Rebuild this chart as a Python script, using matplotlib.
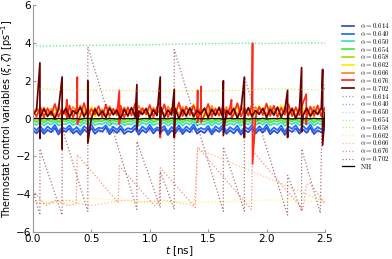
import numpy as np
import matplotlib
matplotlib.use("Agg")
from matplotlib import pyplot as plt
from matplotlib.font_manager import FontProperties

# parameter values and colours
alphas = ["0.614", "0.640", "0.650", "0.654", "0.658", "0.662", "0.666", "0.676", "0.702"]
colors = ["#2f4fd0", "#1f6cff", "#40dcc8", "#40ee40", "#a8de00", "#ffec00", "#ff8a22", "#ff2a1a", "#6a0000"]

# solid traces (xi), sampled evenly over 0..2.5 ns
xi_614 = [-0.62, -0.78, -0.55, -0.81, -0.60, -0.72, -0.49, -0.84, -0.58, -0.70, -0.52, -0.79, -0.63, -0.86, -0.57, -0.74,
          -0.50, -0.80, -0.61, -0.69, -0.47, -0.83, -0.59, -0.76, -0.53, -0.81, -0.66, -0.72, -0.51, -0.85, -0.60, -0.75,
          -0.48, -0.79, -0.56, -0.71, -0.54, -0.87, -0.62, -0.77, -0.50, -0.82, -0.58, -0.73, -0.46, -0.80, -0.64, -0.76,
          -0.52, -0.84, -0.57, -0.70, -0.49, -0.81, -0.61, -0.78, -0.55, -0.85, -0.60, -0.72, -0.50, -0.79, -0.56, -0.74,
          -0.48, -0.83, -0.63, -0.77, -0.53, -0.86, -0.59, -0.71, -0.51, -0.80, -0.57, -0.75, -0.47, -0.82, -0.62, -0.73, -0.55]
xi_640 = [-0.45, -0.62, -0.38, -0.66, -0.42, -0.58, -0.33, -0.69, -0.47, -0.55, -0.36, -0.64, -0.44, -0.71, -0.40, -0.57,
          -0.31, -0.63, -0.48, -0.52, -0.35, -0.68, -0.43, -0.60, -0.37, -0.65, -0.50, -0.56, -0.34, -0.70, -0.41, -0.59,
          -0.32, -0.62, -0.46, -0.54, -0.39, -0.72, -0.44, -0.61, -0.35, -0.66, -0.42, -0.57, -0.30, -0.64, -0.49, -0.58,
          -0.38, -0.69, -0.40, -0.55, -0.33, -0.67, -0.45, -0.60, -0.37, -0.71, -0.43, -0.56, -0.34, -0.63, -0.41, -0.59,
          -0.32, -0.68, -0.47, -0.61, -0.36, -0.70, -0.42, -0.54, -0.35, -0.65, -0.39, -0.58, -0.31, -0.66, -0.44, -0.57, -0.38]
xi_650 = [-0.25, -0.34, -0.19, -0.37, -0.22, -0.31, -0.17, -0.36, -0.27, -0.30, -0.18, -0.35, -0.24, -0.38, -0.20, -0.32,
          -0.16, -0.34, -0.26, -0.29, -0.19, -0.37, -0.23, -0.33, -0.18, -0.36, -0.28, -0.30, -0.17, -0.38, -0.21, -0.32,
          -0.16, -0.35, -0.25, -0.29, -0.20, -0.37, -0.23, -0.34, -0.18, -0.36, -0.22, -0.31, -0.15, -0.35, -0.27, -0.32,
          -0.19, -0.37, -0.21, -0.30, -0.17, -0.36, -0.24, -0.33, -0.19, -0.38, -0.22, -0.31, -0.17, -0.34, -0.21, -0.32,
          -0.16, -0.37, -0.25, -0.33, -0.18, -0.38, -0.22, -0.29, -0.18, -0.35, -0.20, -0.32, -0.16, -0.36, -0.23, -0.31, -0.19]
xi_654 = [-0.10, -0.19, -0.05, -0.21, -0.08, -0.16, -0.04, -0.20, -0.12, -0.15, -0.06, -0.19, -0.09, -0.22, -0.07, -0.17,
          -0.03, -0.18, -0.11, -0.14, -0.05, -0.21, -0.09, -0.17, -0.06, -0.20, -0.13, -0.15, -0.04, -0.22, -0.08, -0.16,
          -0.03, -0.19, -0.10, -0.14, -0.07, -0.21, -0.09, -0.18, -0.05, -0.20, -0.08, -0.16, -0.03, -0.19, -0.12, -0.17,
          -0.06, -0.21, -0.08, -0.15, -0.04, -0.20, -0.10, -0.17, -0.06, -0.22, -0.09, -0.16, -0.04, -0.18, -0.08, -0.17,
          -0.03, -0.21, -0.11, -0.17, -0.05, -0.22, -0.09, -0.14, -0.05, -0.19, -0.07, -0.16, -0.03, -0.20, -0.09, -0.15, -0.06]
xi_658 = [-0.02, -0.08, 0.02, -0.09, 0.00, -0.06, 0.03, -0.10, -0.03, -0.05, 0.01, -0.08, -0.01, -0.09, 0.02, -0.07,
          0.04, -0.08, -0.02, -0.04, 0.02, -0.09, 0.00, -0.07, 0.03, -0.08, -0.04, -0.05, 0.02, -0.10, 0.00, -0.06,
          0.04, -0.08, -0.02, -0.05, 0.01, -0.09, -0.01, -0.07, 0.03, -0.08, 0.00, -0.06, 0.05, -0.08, -0.03, -0.07,
          0.02, -0.09, 0.01, -0.05, 0.03, -0.08, -0.01, -0.06, 0.02, -0.10, -0.01, -0.06, 0.03, -0.07, 0.00, -0.07,
          0.04, -0.09, -0.02, -0.06, 0.02, -0.10, 0.00, -0.05, 0.02, -0.08, 0.01, -0.06, 0.04, -0.08, -0.01, -0.05, 0.01]
xi_662 = [0.35, 0.15, 0.50, 0.12, 0.42, 0.20, 0.55, 0.10, 0.38, 0.25, 0.60, 0.14, 0.45, 0.18, 0.52, 0.22,
          0.62, 0.12, 0.40, 0.28, 0.58, 0.16, 0.48, 0.20, 0.55, 0.11, 0.44, 0.24, 0.62, 0.15, 0.50, 0.19,
          0.57, 0.13, 0.46, 0.26, 0.68, 0.18, 0.54, 0.22, 0.75, 0.16, 0.60, 0.25, 0.78, 0.20, 0.56, 0.14,
          0.50, 0.21, 0.58, 0.17, 0.48, 0.12, 0.44, 0.24, 0.60, 0.18, 0.52, 0.15, 0.55, 0.22, 0.70, 0.19,
          0.76, 0.25, 0.65, 0.16, 0.72, 0.23, 0.58, 0.14, 0.50, 0.20, 0.55, 0.17, 0.47, 0.12, 0.52, 0.21, 0.45]
xi_666 = [0.30, 0.55, 0.18, 0.60, 0.25, 0.52, 0.15, 0.65, 0.28, 0.48, 0.20, 0.62, 0.32, 0.70, 0.22, 0.56,
          0.14, 0.58, 0.27, 0.50, 0.19, 0.66, 0.30, 0.54, 0.16, 0.61, 0.34, 0.49, 0.21, 0.68, 0.26, 0.55,
          0.13, 0.59, 0.29, 0.52, 0.18, 0.64, 0.31, 0.57, 0.20, 0.63, 0.24, 0.51, 0.15, 0.60, 0.33, 0.56,
          0.22, 0.67, 0.27, 0.50, 0.17, 0.62, 0.30, 0.58, 0.19, 0.69, 0.25, 0.53, 0.16, 0.61, 0.28, 0.55,
          0.21, 0.66, 0.32, 0.52, 0.18, 0.63, 0.26, 0.57, 0.14, 0.60, 0.29, 0.51, 0.20, 0.64, 0.24, 0.55, 0.30]
xi_676 = [0.40, 0.12, 0.62, 0.08, 0.55, 0.18, 0.78, 0.10, 0.48, 0.20, 0.70, 0.06, 0.58, 0.15, 0.82, 0.12,
          0.50, 0.22, 0.66, 0.09, 0.74, 0.14, 0.52, 0.19, 0.68, 0.07, 0.60, 0.17, 0.80, 0.11, 0.56, 0.23,
          0.72, 0.10, 0.62, 0.16, 0.76, 0.08, 0.54, 0.21, 0.85, 0.13, 0.64, 0.18, 0.70, 0.09, 0.58, 0.20,
          0.78, 0.12, 0.52, 0.16, 0.66, 0.07, 0.60, 0.22, 0.82, 0.11, 0.55, 0.17, 0.74, 0.10, 0.62, 0.19,
          0.80, 0.14, 0.68, 0.08, 0.57, 0.21, 0.76, 0.13, 0.60, 0.18, 0.84, 0.10, 0.64, 0.15, 0.70, 0.12, 0.58]
xi_702 = [0.20, 0.45, 0.05, 0.52, 0.12, 0.38, 0.00, 0.48, 0.18, 0.55, 0.08, 0.42, 0.25, 0.60, 0.10, 0.46,
          0.02, 0.50, 0.15, 0.40, 0.06, 0.56, 0.20, 0.44, -0.02, 0.50, 0.14, 0.58, 0.09, 0.41, 0.22, 0.53,
          0.04, 0.47, 0.16, 0.62, 0.07, 0.45, 0.19, 0.51, 0.00, 0.48, 0.13, 0.57, 0.10, 0.43, 0.24, 0.55,
          0.05, 0.49, 0.17, 0.60, 0.08, 0.44, 0.21, 0.52, 0.03, 0.47, 0.15, 0.58, 0.11, 0.42, 0.23, 0.54,
          0.06, 0.50, 0.18, 0.61, 0.09, 0.45, 0.20, 0.53, 0.01, 0.48, 0.16, 0.56, 0.12, 0.44, 0.22, 0.57, 0.30]
nh = [0.00, 0.02, -0.01, 0.02, -0.01, 0.01, -0.02, 0.01, 0.00, -0.02, 0.03, -0.01, 0.01, -0.03, 0.01, 0.02,
      -0.01, 0.00, -0.01, 0.02, -0.02, 0.01, 0.00, -0.02, 0.02, -0.01, 0.01, -0.01, 0.02, -0.03, 0.00, 0.01,
      -0.01, 0.02, -0.02, 0.01, 0.00, -0.01, 0.03, -0.01, 0.00, -0.02, 0.01, 0.01, -0.02, 0.02, -0.01, 0.00,
      -0.01, 0.02, -0.01, 0.01, -0.03, 0.00, 0.02, -0.01, 0.01, -0.01, 0.02, -0.02, 0.00, 0.01, -0.01, 0.02,
      -0.02, 0.00, 0.01, -0.01, 0.03, -0.01, 0.01, -0.02, 0.00, 0.02, -0.01, 0.01, -0.01, 0.02, -0.01, 0.00, 0.00]

# spikes in the solid traces: time, top, bottom
spk702_t = [0.06, 0.25, 0.47, 0.89, 1.09, 1.21, 1.63, 1.81, 2.18, 2.30, 2.48]
spk702_hi = [2.95, 2.2, 2.0, 1.8, 2.2, 1.55, 2.0, 2.2, 1.5, 2.7, 2.6]
spk702_lo = [-1.05, -1.6, -1.3, -0.6, -0.8, -1.0, -0.9, -1.0, -1.0, -0.7, -1.4]
spk676_t = [0.29, 0.38, 0.74, 1.09, 1.41, 1.44, 1.70, 1.88, 2.34]
spk676_hi = [1.0, 2.2, 1.5, 0.9, 1.5, 1.7, 1.0, 4.0, 1.3]
spk676_lo = [0.0, -0.3, -0.3, -1.0, -0.2, -0.2, 0.0, -2.4, -0.3]

# dotted traces (zeta): breakpoints
z614_t = [0.0, 0.5, 1.0, 1.5, 2.0, 2.5]
z614 = [-0.68, -0.72, -0.66, -0.70, -0.67, -0.71]
z640_t = [0.0, 0.5, 1.0, 1.5, 2.0, 2.5]
z640 = [-0.55, -0.52, -0.57, -0.54, -0.56, -0.53]
z650_t = [0.0, 0.1, 0.25, 0.5, 0.75, 1.0, 1.25, 1.5, 1.75, 2.0, 2.25, 2.5]
z650 = [3.86, 3.80, 3.84, 3.86, 3.88, 3.90, 3.93, 3.96, 3.98, 3.97, 3.99, 4.00]
z654_t = [0.0, 0.25, 0.5, 0.75, 1.0, 1.25, 1.5, 1.75, 2.0, 2.25, 2.5]
z654 = [3.88, 3.86, 3.88, 3.90, 3.92, 3.95, 3.98, 3.99, 3.98, 4.00, 4.01]
z658_t = [0.0, 0.3, 0.6, 0.9, 1.2, 1.5, 1.8, 2.0, 2.2, 2.5]
z658 = [1.57, 1.53, 1.50, 1.47, 1.46, 1.46, 1.50, 1.58, 1.55, 1.52]
z662_t = [0.0, 0.2, 0.4, 0.5, 0.6, 0.8, 1.0, 1.2, 1.4, 1.6, 1.8, 2.0, 2.2, 2.5]
z662 = [-4.45, -4.40, -4.30, -4.20, -4.25, -4.35, -4.40, -4.38, -4.42, -4.40, -4.35, -4.30, -4.32, -4.40]
z666_t = [0.0, 0.1, 0.2, 0.3, 0.4, 0.5, 0.6, 0.7, 0.8, 0.9, 1.0, 1.1, 1.2, 1.3, 1.38, 1.41, 2.5]
z666 = [-4.40, -4.50, -4.40, -4.30, -4.50, -4.60, -4.50, -4.40, -4.30, -4.40, -4.40, -4.30, -4.40, -4.50, -4.60, -1.60, -4.40]
z676_t = [0.0, 0.11, 0.20, 0.30, 0.37, 0.38, 0.73, 0.74, 1.04, 1.08, 1.09, 1.39, 1.41, 1.87, 1.88, 2.31, 2.34, 2.37, 2.5]
z676 = [-3.8, -4.6, -4.3, -4.6, -4.5, -1.9, -4.45, -2.5, -4.6, -4.4, -2.6, -4.7, -1.5, -4.8, -1.7, -4.8, -3.5, -3.4, -4.5]
z702_t = [0.0, 0.06, 0.06, 0.25, 0.25, 0.47, 0.47, 0.89, 0.89, 1.09, 1.09, 1.21, 1.21, 1.63, 1.63, 1.81, 1.81, 2.18,
          2.18, 2.30, 2.30, 2.46, 2.48, 2.5]
z702 = [-3.8, -5.1, -1.6, -5.1, -0.5, -4.9, 3.8, -4.8, -1.2, -4.7, -2.8, -4.8, 3.65, -4.9, -1.5, -4.9, 2.2, -5.1,
        -3.0, -4.9, -1.6, -5.0, 2.0, 1.5]


def trace(vals, spk_t=(), spk_hi=(), spk_lo=()):
    t = list(np.linspace(0, 2.5, len(vals)))
    y = list(vals)
    for s, h, l in zip(spk_t, spk_hi, spk_lo):
        i = int(np.searchsorted(t, s))
        t[i:i] = [s, s]
        y[i:i] = [h, l]
    return t, y


solid = [trace(xi_614), trace(xi_640), trace(xi_650), trace(xi_654), trace(xi_658),
         trace(xi_662), trace(xi_666), trace(xi_676, spk676_t, spk676_hi, spk676_lo),
         trace(xi_702, spk702_t, spk702_hi, spk702_lo)]
dotted = [(z614_t, z614), (z640_t, z640), (z650_t, z650), (z654_t, z654), (z658_t, z658),
          (z662_t, z662), (z666_t, z666), (z676_t, z676), (z702_t, z702)]

fig = plt.figure(figsize=(3.92, 2.59), dpi=100)
ax = fig.add_axes([0.084, 0.104, 0.745, 0.876])

for (t, y), c, a in zip(solid, colors, alphas):
    ax.plot(t, y, color=c, lw=1.25, label=r"$\alpha = %s$" % a)
for (t, y), c, a in zip(dotted, colors, alphas):
    ax.plot(t, y, color=c, lw=0.9, ls=":", alpha=0.55, label=r"$\alpha = %s$" % a)
tn, yn = trace(nh)
ax.plot(tn, yn, color="black", lw=0.9, label=r"$\mathrm{NH}$")

ax.set_xlim(0, 2.5)
ax.set_ylim(-6, 6)
ax.set_xticks([0.0, 0.5, 1.0, 1.5, 2.0, 2.5])
ax.set_xticklabels(["0.0", "0.5", "1.0", "1.5", "2.0", "2.5"])
ax.set_yticks([-6, -4, -2, 0, 2, 4, 6])
for side in ["top", "right"]:
    ax.spines[side].set_visible(False)
for side in ["left", "bottom"]:
    ax.spines[side].set_color("#999999")
    ax.spines[side].set_linewidth(0.8)
ax.tick_params(direction="in", length=2, color="#999999", labelsize=7.5, pad=1.5)
ax.set_xlabel(r"$t$ [ns]", fontsize=7.5, labelpad=0)
ax.set_ylabel(r"Thermostat control variables $(\xi,\zeta)$ [ps$^{-1}$]", fontsize=6.9, labelpad=0.5)

prop = FontProperties(size=5, math_fontfamily="cm")
ax.legend(loc="upper left", bbox_to_anchor=(1.045, 0.945), prop=prop, frameon=False,
          borderpad=0, labelspacing=-0.17, handlelength=1.8, handletextpad=0.8)

fig.savefig("out.png", dpi=100)
